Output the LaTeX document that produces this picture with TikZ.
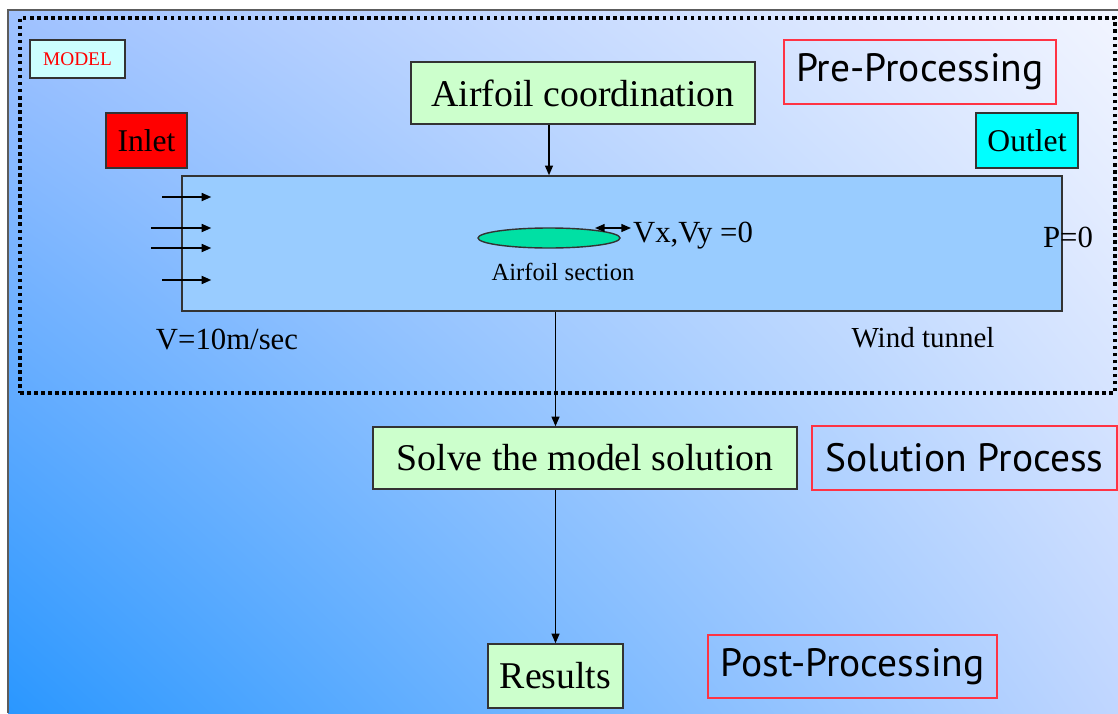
\documentclass[tikz,border=0pt]{standalone}
\usepackage{fontspec}
\setmainfont{Liberation Serif}
\newfontfamily\stagefont{PT Sans}
\usetikzlibrary{positioning, arrows.meta, shapes.geometric, shadings}
\definecolor{edge}{HTML}{333333}
\definecolor{stepgreen}{HTML}{CCFFCC}
\definecolor{tunnelblue}{HTML}{99CCFF}
\definecolor{foilgreen}{HTML}{00E0A4}
\definecolor{modelcyan}{HTML}{CCFFFF}
\definecolor{outletcyan}{HTML}{00FFFF}
\definecolor{inletred}{HTML}{FF0000}
\definecolor{stagered}{HTML}{FF3344}
\definecolor{bgul}{HTML}{A0C2FF}
\definecolor{bgur}{HTML}{F2F5FF}
\definecolor{bgll}{HTML}{2A97FF}
\definecolor{bglr}{HTML}{C0D6FF}
\newcommand{\fsz}[1]{\fontsize{#1}{#1}\selectfont}
\tikzset{
  stepbox/.style={draw=edge, line width=0.85pt, fill=stepgreen, inner sep=0pt,
                  font=\fsz{21.5}},
  tag/.style={draw=edge, line width=0.85pt, inner sep=0pt, font=\fsz{18}},
  stage/.style={draw=stagered, line width=0.85pt, inner sep=0pt,
                font=\stagefont\fsz{22.5}},
  lbl/.style={inner sep=1pt, font=\fsz{17.5}},
  lane/.style={draw=black, line width=2pt, dash pattern=on 2pt off 2pt, inner sep=0pt},
  ar/.style={-{Triangle[length=5.5pt, width=4.5pt]}, line width=0.85pt},
  arb/.style={{Triangle[length=5.5pt, width=4.5pt]}-{Triangle[length=5.5pt, width=4.5pt]}, line width=0.85pt},
}

\begin{document}
\begin{tikzpicture}[x=0.02cm, y=-0.02cm]
  \useasboundingbox (0,0) rectangle (1118,713);

  % --- background slide ---
  \shade[upper left=bgul, upper right=bgur, lower left=bgll, lower right=bglr]
    (8,10) rectangle (1118,713);
  \draw[edge!80, line width=1.2pt] (8,713) -- (8,10) -- (1118,10);

  % --- model group ---
  \node[lane, minimum width=21.9cm, minimum height=7.5cm] (modelbox) at (567.5,205.5) {};
  \node[tag, fill=modelcyan, text=red, font=\fsz{11}, minimum width=1.9cm, minimum height=0.76cm]
       (model) at (77.5,59) {MODEL};
  \node[tag, fill=inletred, minimum width=1.62cm, minimum height=1.1cm] (inlet) at (146.5,140.5) {Inlet};
  \node[tag, fill=outletcyan, minimum width=2.04cm, minimum height=1.1cm] (outlet) at (1027,140.5) {Outlet};
  \node[stepbox, minimum width=6.88cm, minimum height=1.24cm] (coord) at (583,93) {Airfoil coordination};
  \node[stage, minimum width=5.44cm, minimum height=1.28cm] (pre) at (920,72) {Pre-Processing};

  % --- wind tunnel ---
  \node[draw=edge, line width=0.85pt, fill=tunnelblue, minimum width=17.6cm, minimum height=2.7cm]
       (tunnel) at (622,243.5) {};
  \node[ellipse, draw=edge, line width=0.8pt, fill=foilgreen, inner sep=0pt,
        minimum width=2.84cm, minimum height=0.4cm] (foil) at (549,238) {};
  \node[lbl, font=\fsz{14}] (foilname) at (563,272) {Airfoil section};
  \node[lbl, anchor=west] (vxvy) at (631,236) {Vx,Vy =0};
  \node[lbl] (pzero) at (1068,237) {P=0};
  \node[lbl] (vten) at (227,340) {V=10m/sec};
  \node[lbl, font=\fsz{16.5}] (wind) at (923,338) {Wind tunnel};

  % --- solution and results ---
  \node[stepbox, minimum width=8.48cm, minimum height=1.24cm] (solve) at (585,458) {Solve the model solution};
  \node[stage, minimum width=6.1cm, minimum height=1.28cm] (solproc) at (964.5,458) {Solution Process};
  \node[stepbox, minimum width=2.7cm, minimum height=1.28cm] (results) at (555.5,676) {Results};
  \node[stage, minimum width=5.78cm, minimum height=1.26cm] (post) at (852.5,666.5) {Post-Processing};

  % --- arrows ---
  \draw[ar] (coord.south -| foil) -- (tunnel.north -| foil);
  \draw[ar] (tunnel.south -| results) -- (solve.north -| results);
  \draw[ar] (solve.south -| results) -- (results.north);
  \draw[arb] ([xshift=-0.72cm, yshift=0.16cm]vxvy.west) -- ([yshift=0.16cm]vxvy.west);
  \foreach \dy/\dx [count=\i] in {0.93/0.38, 0.31/0.6, -0.09/0.6, -0.73/0.38}
    \draw[ar, line width=1.1pt] ([xshift=-\dx cm, yshift=\dy cm]tunnel.west) coordinate (in\i)
      -- ([xshift=0.6cm, yshift=\dy cm]tunnel.west);

\end{tikzpicture}
\end{document}
